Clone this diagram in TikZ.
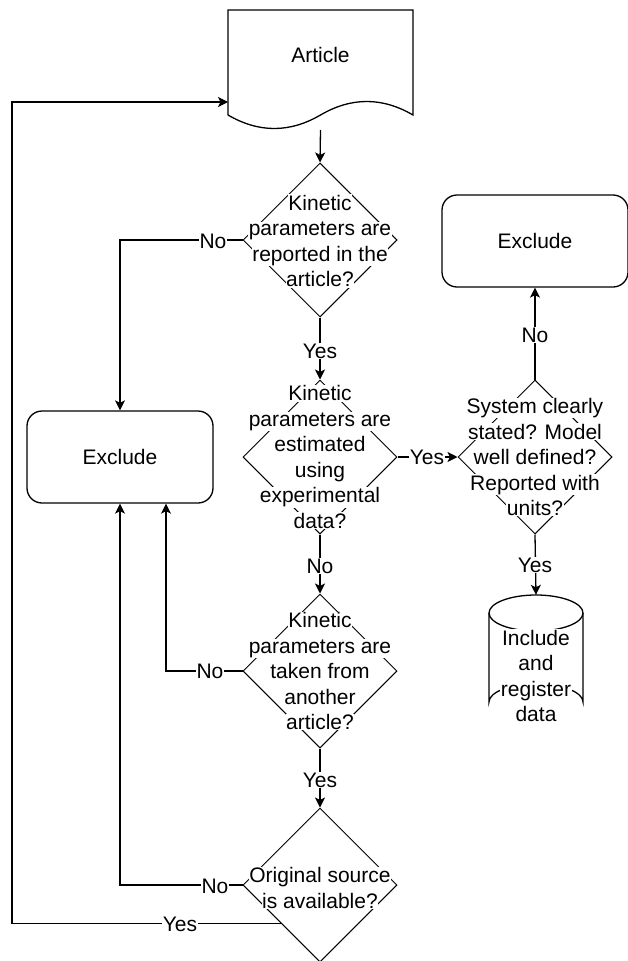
\documentclass[tikz,border=0pt]{standalone}
\usepackage{fontspec}
\setmainfont{Liberation Sans}
\usetikzlibrary{shapes.geometric,arrows.meta}
\newcommand{\fs}{\fontsize{21}{25.5}\selectfont}
\newcommand{\wl}[1]{{\setlength{\fboxsep}{0.6pt}\colorbox{white}{#1}}}
\tikzset{
  ln/.style={line width=1.3pt, black},
  arr/.style={ln, -{Stealth[length=10pt,width=10pt,inset=2.5pt]}},
  dia/.style={diamond, draw, line width=1pt, minimum width=154pt, minimum height=154pt, inner sep=0pt},
  box/.style={draw, line width=1.3pt, rounded corners=15pt, minimum width=186pt, minimum height=92pt, font=\fs},
  txt/.style={align=center, inner sep=0pt, font=\fs},
  lbl/.style={fill=white, inner sep=1pt, font=\fs},
}
\begin{document}
\begin{tikzpicture}[x=1pt,y=-1pt]
\useasboundingbox (0,0) rectangle (627,961);
% Article document shape
\draw[ln] (228,10) -- (413,10) -- (413,115) .. controls (382.2,97) and (351.3,97) .. (320.5,115) .. controls (289.7,133) and (258.8,133) .. (228,115) -- cycle;
\node[txt] (art) at (320.5,55) {Article};
\coordinate (artB) at (320.5,130);
\coordinate (artW) at (228,102);
\coordinate (lp) at (12,0);
\coordinate (xL2) at (166,0);

% diamonds
\node[dia] (d1) at (320,240) {};
\node[dia] (d2) at (320,457) {};
\node[dia] (d5) at (535,457) {};
\node[dia] (d3) at (320,671) {};
\node[dia] (d4) at (320,885) {};

% boxes
\node[box] (exclR) at (535,241) {Exclude};
\node[box] (exclL) at (120,457) {Exclude};

% cylinder
\draw[ln] (489,613) -- (489,702) arc[start angle=180,end angle=360,x radius=47,y radius=18] -- (583,613);
\draw[ln] (536,613) ellipse[x radius=47, y radius=18];
\node[inner sep=0pt, minimum width=94pt, minimum height=125pt] (cyl) at (536,657.5) {};

% connectors
\draw[arr] (artB) -- (d1.north);
\draw[arr] (d1.west) -| (exclL.north);
\draw[arr] (d1.south) -- (d2.north);
\draw[arr] (d2.east) -- (d5.west);
\draw[arr] (d5.north) -- (exclR.south);
\draw[arr] (d5.south) -- (cyl.north);
\draw[arr] (d2.south) -- (d3.north);
\draw[arr] (d3.west) -| (xL2 |- exclL.south);
\draw[arr] (d3.south) -- (d4.north);
\draw[arr] (d4.west) -| (exclL.south);
\draw[arr] (d4.south west) -| (lp |- artW) -- (artW);

% texts
\node[txt] (d1t) at (320,241) {\wl{Kinetic}\\\wl{parameters are}\\\wl{reported in the}\\\wl{article?}};
\node[txt] (d2t) at (320,457) {\wl{Kinetic}\\\wl{parameters are}\\\wl{estimated}\\\wl{using}\\\wl{experimental}\\\wl{data?}};
\node[txt] (d5t) at (535,457) {\wl{System clearly}\\\wl{stated? Model}\\\wl{well defined?}\\\wl{Reported with}\\\wl{units?}};
\node[txt] (d3t) at (320,671) {\wl{Kinetic}\\\wl{parameters are}\\\wl{taken from}\\\wl{another}\\\wl{article?}};
\node[txt] (d4t) at (320,888) {\wl{Original source}\\\wl{is available?}};
\node[txt] (cylt) at (536,676) {\wl{Include}\\\wl{and}\\\wl{register}\\\wl{data}};

% labels
\node[lbl] (l1) at (213,241) {No};
\node[lbl] (l2) at (320,351) {Yes};
\node[lbl] (l3) at (427,457) {Yes};
\node[lbl] (l4) at (535,335) {No};
\node[lbl] (l5) at (535,565) {Yes};
\node[lbl] (l6) at (320,566) {No};
\node[lbl] (l7) at (210,671) {No};
\node[lbl] (l8) at (320,780) {Yes};
\node[lbl] (l9) at (215,886) {No};
\node[lbl] (l10) at (180,924) {Yes};
\end{tikzpicture}
\end{document}
